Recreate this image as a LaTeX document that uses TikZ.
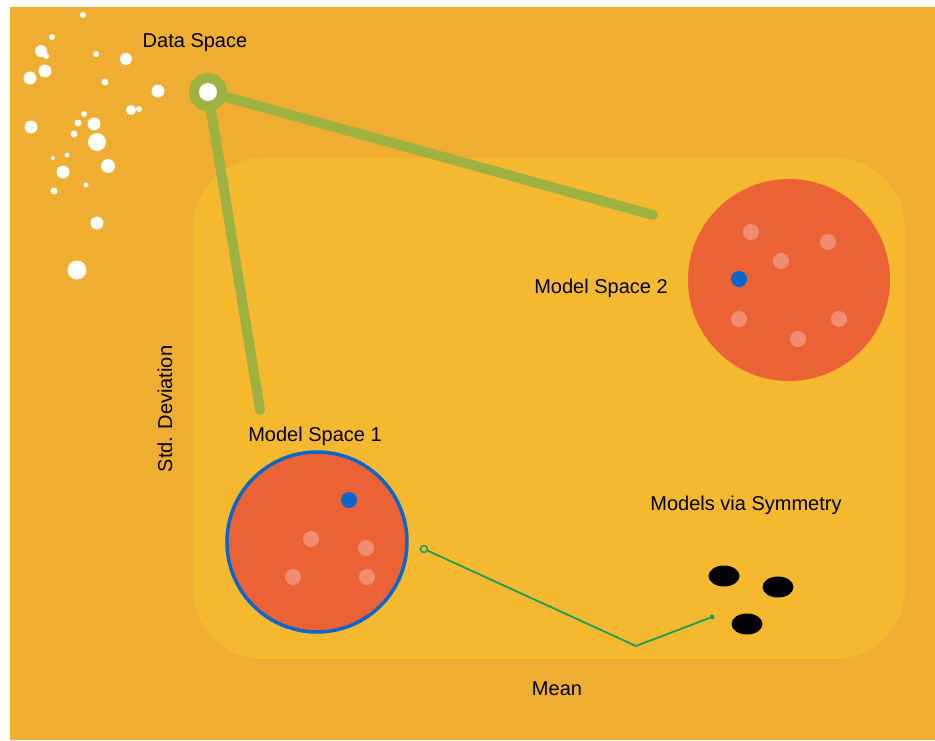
\documentclass[tikz,border=0pt]{standalone}
\usepackage{fontspec}
\setmainfont{Liberation Sans}
\usetikzlibrary{positioning,shapes.geometric}
\definecolor{bgorange}{RGB}{239,173,49}
\definecolor{pane}{RGB}{245,185,48}
\definecolor{modelred}{RGB}{235,99,52}
\definecolor{softdot}{RGB}{240,140,115}
\definecolor{pickblue}{RGB}{10,102,204}
\definecolor{olive}{RGB}{158,178,66}
\definecolor{thingreen}{RGB}{30,158,90}
\tikzstyle{space} = [circle, fill=modelred, inner sep=0pt]
\tikzstyle{sample} = [circle, fill=white, inner sep=0pt]
\tikzstyle{member} = [circle, fill=softdot, inner sep=0pt, minimum size=16pt]
\tikzstyle{chosen} = [circle, fill=pickblue, inner sep=0pt, minimum size=16pt]
\tikzstyle{twin} = [ellipse, fill=black, inner sep=0pt, minimum width=31pt, minimum height=21pt]
\tikzstyle{link} = [draw=olive, line width=10pt, line cap=round]

\begin{document}
\begin{tikzpicture}[x=1pt, y=-1pt]
    \tikzset{font={\fontsize{20}{24}\selectfont}}
    \useasboundingbox (0,0) rectangle (935,740);
    \fill[white] (0,0) rectangle (935,740);
    \fill[bgorange] (10,7) rectangle (935,740);
    \fill[pane, rounded corners=70pt] (193,158) rectangle (905,659);
    % data samples
    \foreach \x/\y/\r in {83/15/3, 52/37/3, 41/51/6, 46/56/3, 96/54/3, 126/59/6,
        30/78/6.5, 45/71/6.5, 105/82/3.5, 158/91/6.5, 131/110/5, 139/109/3,
        84/114/3, 31/127/6.5, 78/123/3.5, 94/124/6.5, 74/134/3.5, 97/142/9,
        67/155/2.5, 53/158/2, 108/166/7, 63/172/6.5, 86/185/2.5, 54/191/3.5,
        97/223/6.5, 77/270/9.5}
        \fill[white] (\x,\y) circle (\r pt);
    \node (dslabel) at (195,43) {Data Space};
    \node [circle, fill=olive, inner sep=0pt, minimum size=38pt] (ds) at (208,92) {};
    \coordinate (end2) at (653,215);
    \coordinate (end1) at (260,410);
    \draw [link] (ds) -- (end2);
    \draw [link] (ds) -- (end1);
    \node [sample, minimum size=18pt] at (ds) {};
    % model space 1
    \node [space, draw=pickblue, line width=3.5pt, minimum size=180pt] (ms1) at (317,542) {};
    \node (ms1label) at (315,436) {Model Space 1};
    \node [chosen] at (349,500) {};
    \foreach \x/\y in {311/539, 366/548, 293/577, 367/577}
        \node [member] at (\x,\y) {};
    % model space 2
    \node [space, minimum size=202pt] (ms2) at (789,280) {};
    \node (ms2label) at (601,288) {Model Space 2};
    \foreach \x/\y in {751/232, 828/242, 781/261, 739/319, 839/319, 798/339}
        \node [member] at (\x,\y) {};
    \node [chosen] at (739,279) {};
    % symmetric models
    \node (symlabel) at (746,505) {Models via Symmetry};
    \node [twin] (t1) at (724,576) {};
    \node [twin] (t2) at (778,587) {};
    \node [twin] (t3) at (747,624) {};
    \node [circle, draw=thingreen, line width=1.5pt, inner sep=0pt, minimum size=7pt] (src) at (424,549) {};
    \node [circle, fill=thingreen, inner sep=0pt, minimum size=5pt] (dst) at (712,617) {};
    \coordinate (knee) at (636,646);
    \draw [thingreen, line width=1.8pt] (src) -- (knee) -- (dst);
    % axes
    \node [rotate=90] (ylab) at (165,409) {Std. Deviation};
    \node (xlab) at (557,689) {Mean};
\end{tikzpicture}
\end{document}
